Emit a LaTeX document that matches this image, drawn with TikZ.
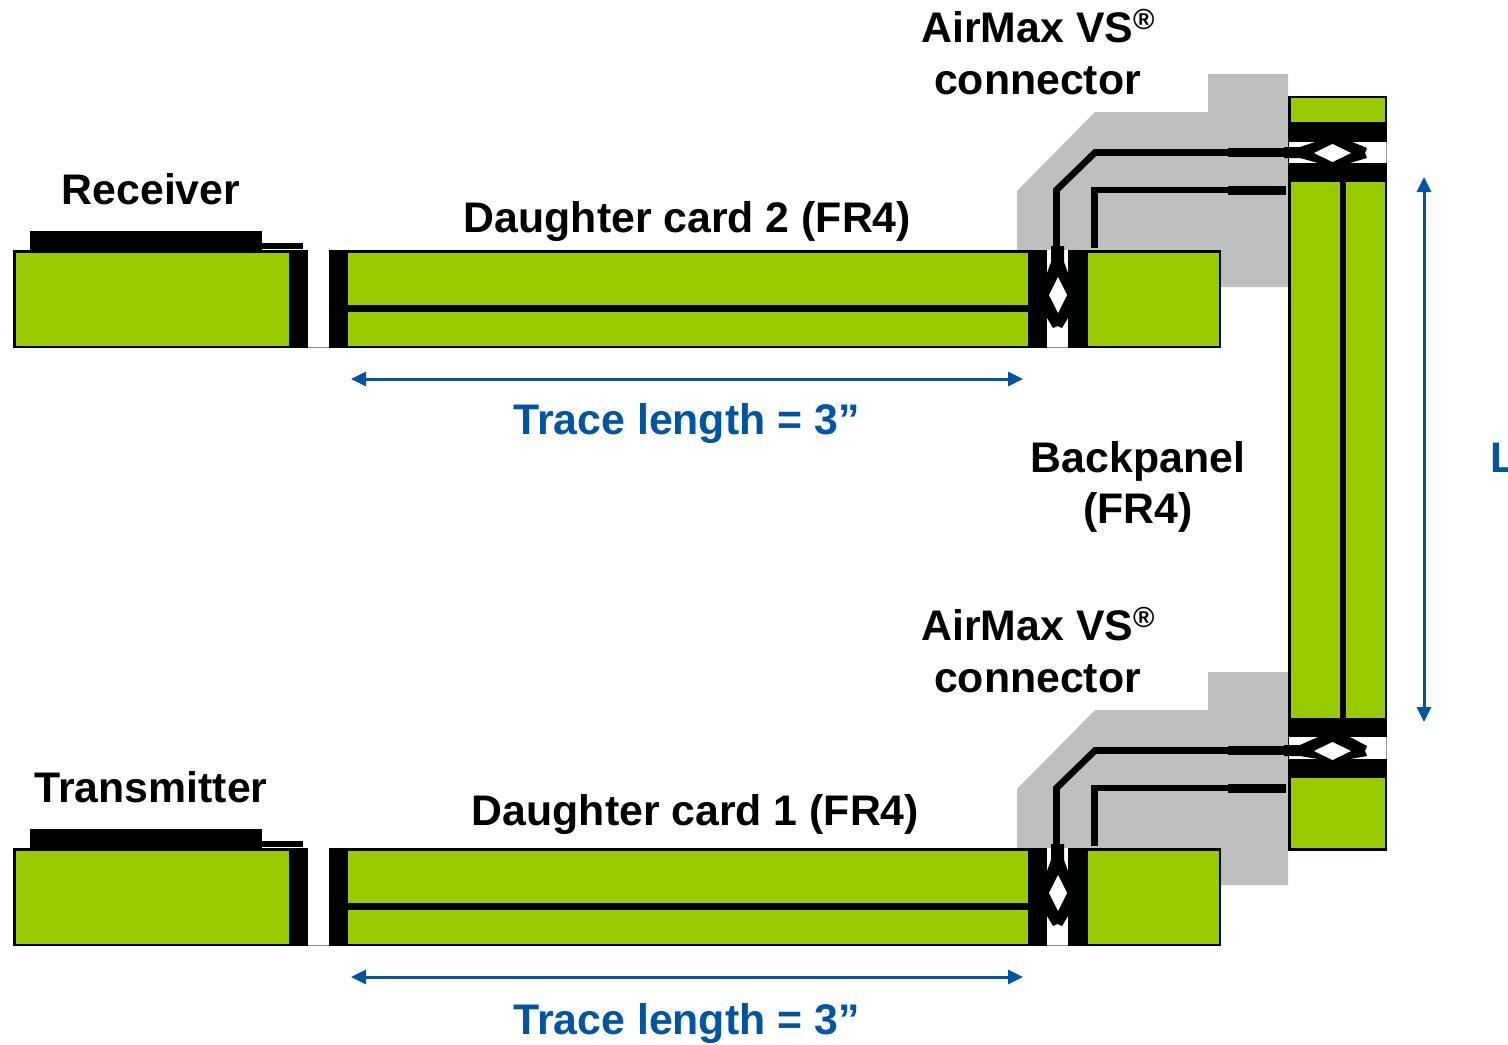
\documentclass[tikz,border=0pt]{standalone}
\usepackage{fontspec}
\setmainfont{Liberation Sans}
\usetikzlibrary{arrows.meta}
\definecolor{boardgreen}{HTML}{99CC00}
\definecolor{dimblue}{HTML}{0054A4}
\definecolor{shellgrey}{HTML}{BFBFBF}
\tikzset{
  lab/.style={anchor=base,inner sep=0pt,font=\fontsize{21.4}{25}\selectfont\bfseries,text=black},
  bluelab/.style={lab,text=dimblue},
  board/.style={draw=black,line width=1.25pt,fill=boardgreen},
  blk/.style={fill=black,draw=none},
  gap/.style={fill=white,draw=none},
  dim/.style={draw=dimblue,line width=1.5pt,{Triangle[length=7.5pt,width=7pt]}-{Triangle[length=7.5pt,width=7pt]}},
  thin trace/.style={draw=black,line width=3.3pt,line join=miter},
  thick trace/.style={draw=black,line width=4.5pt},
  edgeline/.style={draw=black!45,line width=0.5pt}
}
\newcommand{\regmark}{\raisebox{0.3em}{\fontsize{14.5}{15}\selectfont ®}}
\begin{document}
\begin{tikzpicture}[x=0.5pt,y=-0.5pt]
\clip (0,0) rectangle (1508,1044);
\fill[white] (0,0) rectangle (1508,1044);
\foreach \dy in {0,598}{
\begin{scope}[yshift={-\dy*0.5pt}]
  % connector shell
  \fill[shellgrey] (1017,191) -- (1095,112) -- (1208,112) -- (1208,74) -- (1288,74) -- (1288,287) -- (1200,287) -- (1200,260) -- (1017,260) -- cycle;
  % daughter card
  \draw[board] (14.5,251.5) rectangle (1220,347);
  \fill[blk] (289,250) rectangle (307.5,348);
  \fill[gap] (307.5,250) rectangle (329,347);
  \draw[edgeline] (307.5,347.5) -- (329,347.5);
  \fill[blk] (329,250) rectangle (348,348);
  \fill[blk] (348,305) rectangle (1028,312);
  \fill[blk] (1028,250) rectangle (1047,348);
  \fill[gap] (1047,250) rectangle (1068,347);
  \draw[edgeline] (1047,347.5) -- (1068,347.5);
  \fill[blk] (1068,250) rectangle (1088,348);
  % chip
  \fill[blk] (29.5,231) rectangle (262,251);
  \fill[blk] (262,243) rectangle (303,249);
  % traces
  \draw[thin trace] (1056.5,250) -- (1056.5,190) -- (1095,152.5) -- (1228,152.5);
  \draw[thick trace] (1228,152.5) -- (1284,152.5);
  \draw[thin trace] (1094.5,248) -- (1094.5,190) -- (1228,190);
  \draw[thick trace] (1228,190) -- (1286,190);
  % vertical via
  \fill[blk] (1051,246) -- (1064,246) -- (1064,262) -- (1068,273) -- (1068,318) -- (1062,328) -- (1057.5,326) -- (1053,328) -- (1047,318) -- (1047,273) -- (1051,262) -- cycle;
  \fill[white] (1058,277) -- (1067,295) -- (1058,313) -- (1049,295) -- cycle;
\end{scope}
}
% backpanel
\draw[board] (1289.5,97) rectangle (1386,849.5);
\draw[black,line width=3pt] (1343,182) -- (1343,718);
\foreach \top in {122,717.5}{
  \fill[blk] (1288,\top) rectangle (1387,\top+19.5);
  \fill[gap] (1289,\top+19.5) rectangle (1386,\top+41);
  \fill[black!40] (1386,\top+19.5) rectangle (1387,\top+41);
  \fill[blk] (1288,\top+41) rectangle (1387,\top+60);
}
\foreach \dy/\by in {0/0,598/596}{
  \fill[blk] (1284,147+\dy) -- (1300,147+\dy) -- (1318,141+\by) -- (1350,141+\by) -- (1367,148+\dy) -- (1365,153+\dy) -- (1367,158+\dy) -- (1350,163+\by) -- (1318,163+\by) -- (1300,158+\dy) -- (1284,158+\dy) -- cycle;
  \fill[white] (1314,153+\dy) -- (1332.5,144+\dy) -- (1351,153+\dy) -- (1332.5,162+\dy) -- cycle;
}
% dimension arrows
\coordinate (t2a) at (351,379);
\coordinate (t2b) at (1023,379);
\coordinate (t1a) at (351,977);
\coordinate (t1b) at (1023,977);
\coordinate (la) at (1424,177);
\coordinate (lb) at (1424,722);
\draw[dim] (t2a) -- (t2b);
\draw[dim] (t1a) -- (t1b);
\draw[dim] (la) -- (lb);
% labels
\node[lab] (avs2) at (1038,42) {AirMax VS\regmark};
\node[lab] (con2) at (1037.5,94) {connector};
\node[lab] (avs1) at (1038,640) {AirMax VS\regmark};
\node[lab] (con1) at (1037.5,692) {connector};
\node[lab] (rx) at (151,204) {Receiver};
\node[lab] (tx) at (151,802) {Transmitter};
\node[lab] (dc2) at (687.5,232) {Daughter card 2 (FR4)};
\node[lab] (dc1) at (695.5,825) {Daughter card 1 (FR4)};
\node[lab] (bp) at (1138,472) {Backpanel};
\node[lab] (bpf) at (1138,523) {(FR4)};
\node[bluelab] (tl2) at (686.5,434) {Trace length = 3”};
\node[bluelab] (tl1) at (686.5,1034) {Trace length = 3”};
\node[bluelab,anchor=base west] (len) at (1490,472) {L};
\end{tikzpicture}
\end{document}
